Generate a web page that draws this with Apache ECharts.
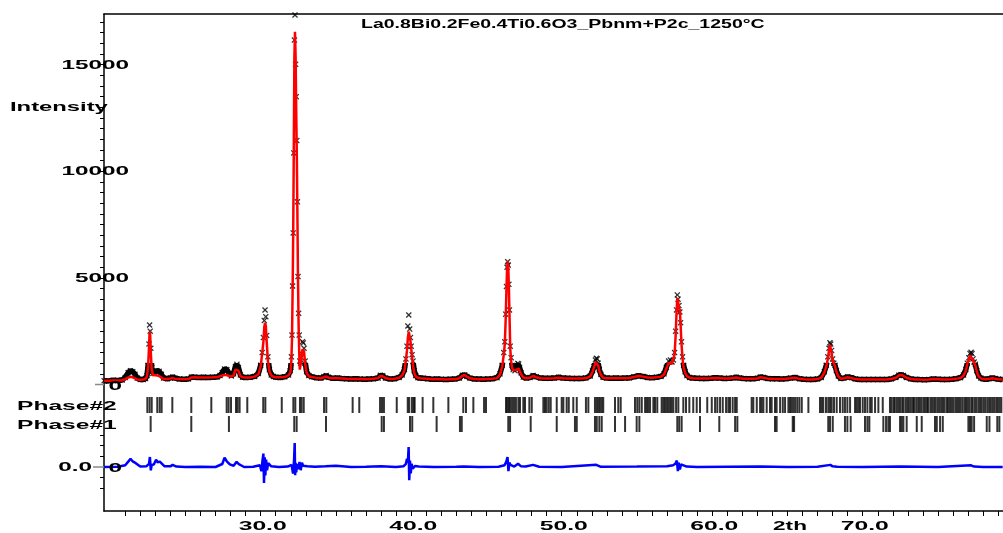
<!DOCTYPE html>
<html>
<head>
<meta charset="utf-8">
<script src="https://cdn.jsdelivr.net/npm/echarts@6/dist/echarts.min.js"></script>
<style>
  html, body { margin: 0; padding: 0; background: #fff; }
  #chart { width: 1003px; height: 533px; }
</style>
</head>
<body>
<div id="chart"></div>
<script>
// ---- Rietveld profile: La0.8Bi0.2Fe0.4Ti0.6O3, Pbnm + P2c, 1250 °C ----

const titleText = 'La0.8Bi0.2Fe0.4Ti0.6O3_Pbnm+P2c_1250\u00B0C';

// 2-theta grid of the observed / calculated profile (degrees)
const twoTheta = [
  19.60, 19.90, 20.20, 20.50, 20.80, 21.00, 21.20, 21.35, 21.50, 21.65, 21.80, 22.00, 22.20, 22.35,
  22.45, 22.52, 22.58, 22.62, 22.66, 22.70, 22.76, 22.84,
  22.95, 23.10, 23.25, 23.40, 23.55,
  23.80, 24.00, 24.15, 24.30, 24.60, 24.90, 25.20, 25.40, 25.60, 25.90, 26.20, 26.50, 26.80, 27.10, 27.30,
  27.45, 27.60, 27.75, 27.90, 28.05, 28.20, 28.32, 28.42, 28.52, 28.65, 28.80, 29.00,
  29.30, 29.60, 29.85, 30.00, 30.10, 30.18, 30.24, 30.29, 30.34, 30.40, 30.48, 30.58, 30.70, 30.85,
  31.00, 31.30, 31.60, 31.85, 31.96,
  32.00, 32.04, 32.08, 32.12, 32.16, 32.20, 32.24, 32.28, 32.32, 32.36, 32.40, 32.44, 32.48, 32.52, 32.56, 32.60,
  32.66, 32.72, 32.78, 32.83, 32.88, 32.95, 33.05, 33.20,
  33.40, 33.70, 34.00, 34.20, 34.35, 34.50, 34.80, 35.10, 35.40, 35.70, 36.00, 36.30, 36.60, 36.90, 37.20, 37.50, 37.80, 37.95, 38.10, 38.30, 38.60, 38.90, 39.20, 39.40,
  39.55, 39.65, 39.72, 39.78, 39.84, 39.90, 39.95, 40.00, 40.06, 40.12, 40.20, 40.30, 40.45, 40.60,
  40.80, 41.10, 41.40, 41.70, 42.00, 42.30, 42.60, 42.90, 43.20, 43.40, 43.55, 43.70, 43.90, 44.20, 44.50, 44.80, 45.10, 45.40, 45.70, 45.90, 46.05, 46.15,
  46.22, 46.28, 46.33, 46.37, 46.41, 46.45, 46.49, 46.53, 46.58, 46.64, 46.70, 46.78,
  46.90, 47.00, 47.08, 47.14, 47.20, 47.30, 47.45, 47.65,
  47.90, 48.10, 48.30, 48.60, 48.90, 49.20, 49.50, 49.80, 50.10, 50.40, 50.70, 51.00, 51.30, 51.60, 51.90, 52.05,
  52.15, 52.24, 52.30, 52.36, 52.42, 52.50, 52.60, 52.75,
  53.00, 53.30, 53.60, 53.90, 54.20, 54.50, 54.80, 55.10, 55.40, 55.70, 56.00, 56.30, 56.60, 56.80,
  56.95, 57.10, 57.22, 57.32, 57.42, 57.50, 57.57, 57.63, 57.68, 57.73, 57.79, 57.85, 57.90, 57.96, 58.03, 58.10, 58.20, 58.32, 58.50,
  58.70, 59.00, 59.30, 59.60, 59.90, 60.20, 60.50, 60.80, 61.10, 61.40, 61.60, 61.80, 62.10, 62.40, 62.70, 63.00, 63.20, 63.40, 63.70, 64.00, 64.30, 64.60, 64.90, 65.20, 65.50, 65.80, 66.10, 66.40, 66.70, 67.00, 67.25, 67.45,
  67.58, 67.68, 67.76, 67.82, 67.87, 67.93, 68.00, 68.08, 68.16, 68.25, 68.38, 68.55,
  68.75, 69.00, 69.25, 69.50, 69.80, 70.10, 70.40, 70.70, 71.00, 71.30, 71.60, 71.90, 72.20, 72.40, 72.55, 72.70, 72.90, 73.20, 73.50, 73.80, 74.10, 74.40, 74.70, 75.00, 75.30, 75.60, 75.90, 76.20, 76.50, 76.70, 76.85,
  76.95, 77.05, 77.13, 77.20, 77.26, 77.33, 77.40, 77.48, 77.58, 77.70, 77.85,
  78.00, 78.20, 78.40, 78.60, 78.80, 79.00, 79.30
];

// observed intensity (counts)
const yObs = [
  180, 170, 195, 185, 210, 330, 560, 650, 600, 480, 300, 240, 230, 280,
  420, 900, 1900, 2790, 2500, 1700, 800, 520,
  520, 650, 620, 480, 300,
  270, 310, 350, 300, 260, 250, 260, 350, 345, 330, 335, 330, 340, 350, 420,
  560, 727, 700, 520, 400, 500, 850, 947, 800, 450, 340, 330,
  340, 380, 520, 900, 1500, 2200, 3000, 3494, 3180, 2300, 1300, 700, 450, 380,
  340, 330, 360, 450, 650,
  800, 1300, 2320, 4620, 7110, 10860, 16157, 17330, 15017, 13500, 11440, 8570, 5060, 3340, 2320, 1100,
  1000, 1450, 2007, 1950, 1700, 1100, 600, 420,
  360, 320, 300, 360, 420, 340, 290, 300, 280, 270, 260, 265, 255, 250, 260, 270, 300, 430, 410, 300, 260, 270, 330, 450,
  700, 1200, 1800, 2744, 3260, 2600, 2200, 1800, 1400, 1100, 650, 420, 320, 300,
  290, 270, 250, 260, 245, 240, 250, 255, 300, 430, 450, 380, 300, 260, 255, 250, 260, 270, 320, 500, 900, 1500,
  2000, 3300, 4600, 5500, 5760, 5600, 4700, 3500, 1800, 1260, 900, 700,
  650, 800, 990, 960, 800, 550, 350, 300,
  330, 420, 360, 300, 290, 290, 300, 340, 300, 290, 280, 285, 280, 300, 400, 650,
  850, 1150, 1230, 1200, 1000, 700, 480, 340,
  300, 290, 300, 290, 300, 310, 360, 410, 380, 330, 320, 340, 380, 500,
  800, 1100, 1150, 1050, 1150, 1500, 2500, 3500, 4200, 4000, 3700, 3400, 2900, 2000, 1300, 900, 600, 420, 330,
  300, 290, 280, 285, 290, 320, 300, 280, 290, 310, 340, 300, 280, 270, 265, 290, 350, 330, 280, 270, 265, 260, 270, 300, 330, 270, 250, 240, 240, 260, 330, 600,
  900, 1300, 1700, 1960, 1900, 1600, 1200, 1000, 900, 650, 400, 280,
  300, 360, 320, 260, 240, 235, 230, 240, 235, 230, 240, 260, 330, 440, 460, 420, 330, 260, 240, 230, 225, 240, 260, 250, 235, 240, 250, 270, 320, 450, 700,
  1000, 1250, 1450, 1510, 1450, 1200, 1050, 950, 650, 400, 300,
  260, 250, 270, 310, 280, 250, 240
];

// calculated intensity (counts)
const yCalc = [
  175, 180, 185, 190, 200, 250, 330, 360, 340, 290, 240, 225, 230, 260,
  380, 850, 1750, 2476, 2300, 1500, 700, 450,
  400, 430, 400, 330, 260,
  260, 280, 300, 275, 255, 250, 255, 330, 335, 330, 330, 330, 335, 345, 390,
  420, 445, 440, 400, 370, 430, 700, 760, 650, 400, 340, 330,
  330, 370, 480, 850, 1460, 2000, 2700, 2900, 2750, 2000, 1100, 620, 420, 360,
  340, 335, 350, 430, 560,
  700, 1150, 2100, 4300, 7000, 11000, 15400, 16547, 15400, 12900, 10800, 8000, 4900, 2800, 1500, 700,
  750, 1250, 1650, 1697, 1550, 1000, 550, 380,
  350, 310, 295, 340, 380, 320, 290, 290, 280, 268, 260, 260, 255, 250, 255, 265, 300, 400, 390, 300, 260, 270, 320, 430,
  650, 1150, 1600, 2200, 2476, 2400, 2050, 1700, 1300, 900, 550, 380, 310, 290,
  280, 265, 250, 250, 245, 240, 245, 250, 290, 410, 445, 370, 290, 260, 250, 250, 255, 265, 300, 460, 850, 1400,
  1900, 3100, 4500, 5400, 5760, 5500, 4600, 3300, 1700, 1100, 800, 650,
  600, 700, 760, 750, 650, 480, 330, 290,
  320, 400, 340, 295, 285, 285, 295, 320, 295, 285, 280, 280, 280, 290, 380, 600,
  800, 1040, 1070, 1050, 900, 650, 450, 320,
  295, 290, 295, 290, 295, 305, 350, 400, 370, 325, 320, 335, 370, 470,
  750, 1000, 1070, 980, 1050, 1400, 2300, 3400, 4043, 3900, 3600, 3494, 2800, 1900, 1200, 800, 550, 390, 320,
  295, 285, 280, 280, 290, 310, 295, 280, 285, 305, 330, 295, 275, 265, 265, 285, 340, 320, 275, 265, 260, 258, 265, 290, 320, 265, 248, 238, 238, 255, 320, 560,
  850, 1200, 1600, 1852, 1800, 1500, 1100, 994, 850, 600, 380, 270,
  290, 338, 300, 255, 240, 235, 232, 235, 232, 230, 238, 255, 320, 420, 445, 410, 320, 255, 238, 230, 228, 238, 255, 245, 235, 238, 248, 265, 310, 420, 650,
  950, 1200, 1350, 1383, 1350, 1150, 1000, 900, 600, 380, 290,
  255, 250, 265, 290, 270, 245, 235
];

// difference curve (obs - calc)
const diffTheta = [
  19.60, 20.50, 21.00, 21.20, 21.35, 21.50, 21.70, 22.00, 22.40, 22.58,
  22.64, 22.70, 22.76, 22.90, 23.05, 23.15, 23.30, 23.60, 24.00, 24.15,
  24.40, 25.00, 26.00, 27.00, 27.45, 27.60, 27.75, 27.95, 28.20, 28.40,
  28.55, 28.90, 29.50, 29.95, 30.05, 30.12, 30.18, 30.22, 30.27, 30.31,
  30.36, 30.42, 30.50, 30.70, 31.20, 31.80, 32.05, 32.15, 32.22, 32.26,
  32.29, 32.32, 32.36, 32.42, 32.50, 32.58, 32.66, 32.74, 32.82, 32.90,
  33.10, 33.60, 34.30, 35.00, 36.00, 37.00, 38.00, 39.00, 39.50, 39.65,
  39.72, 39.78, 39.83, 39.87, 39.92, 39.97, 40.03, 40.10, 40.25, 40.50,
  41.50, 43.00, 43.50, 44.50, 45.80, 46.20, 46.32, 46.40, 46.46, 46.52,
  46.60, 46.70, 46.85, 47.10, 47.30, 47.60, 48.10, 48.50, 50.00, 52.30,
  52.60, 55.00, 57.00, 57.40, 57.55, 57.65, 57.72, 57.78, 57.85, 57.93,
  58.05, 58.30, 59.00, 61.00, 63.20, 65.00, 67.00, 67.85, 68.00, 68.30,
  70.00, 72.50, 75.00, 77.20, 77.40, 78.00, 79.30
];
const yDiff = [
  0, 10, 80, 250, 390, 260, 180, 20, 30, 150,
  470, -156, 100, 120, 344, 220, 250, 40, 30, 100,
  20, 0, 10, 0, 140, 440, 260, 120, 60, 240,
  130, 0, 10, 80, -200, 300, 630, -750, 450, -400,
  350, -150, 180, 30, 0, 20, 100, -310, 350, 1125,
  -390, 200, -250, 150, -100, 240, -150, 200, 60, 120,
  40, 10, 30, 60, 0, 10, 30, 0, 40, 150,
  390, 200, 940, -625, 300, -300, 150, -80, 50, 20,
  0, 10, 20, 0, 10, 80, 250, 470, -190, 200,
  100, 60, 20, 150, 30, 20, 100, 10, 0, 100,
  10, 20, 40, 80, 150, 300, -190, 200, -120, 120,
  40, 20, 0, 10, 20, 0, 10, 100, 30, 10,
  0, 20, 0, 80, 20, 0, 0
];

// Bragg reflection positions (2-theta)
const phase2Refl = [
  22.47, 22.62, 22.76, 23.13, 23.29, 23.42, 24.13, 25.39, 26.72, 27.74, 27.87, 28.03, 28.36, 28.47, 28.60, 29.11,
  30.17, 30.31, 31.40, 32.17, 32.30, 32.61, 32.72, 32.86, 34.21, 34.36, 36.11, 36.55, 37.93, 38.06, 38.19, 39.04,
  39.77, 39.87, 40.05, 40.17, 40.23, 40.76, 41.47, 42.47, 43.46, 43.64, 44.13, 44.84, 44.97,
  46.30, 46.39, 46.48, 46.57, 46.70, 46.83, 46.96, 47.12, 47.23, 47.45, 47.56, 47.85, 48.01,
  48.78, 48.89, 49.00, 49.14, 49.27, 49.67, 50.00, 50.11, 50.33, 50.47, 50.77, 51.00, 51.61, 51.77,
  52.21, 52.33, 52.43, 52.54, 52.66, 52.76, 53.54, 53.76, 53.92,
  54.87, 55.02, 55.16, 55.32, 55.54, 55.65, 55.75, 55.87, 56.09, 56.20, 56.35, 56.64, 56.75, 56.86, 56.98,
  57.08, 57.20, 57.31, 57.42, 57.60, 57.75, 58.08, 58.26, 58.48, 58.74, 58.97, 59.19, 59.67, 59.97,
  60.19, 60.34, 60.52, 60.70, 60.92, 61.07, 61.18, 61.36, 61.52, 61.63,
  62.62, 62.73, 62.96, 63.18, 63.29, 63.40, 63.62, 63.84, 63.95, 64.17, 64.28, 64.51, 64.69, 64.84,
  65.06, 65.17, 65.28, 65.39, 65.51, 65.65, 65.79, 65.95, 66.39,
  67.16, 67.28, 67.38, 67.56, 67.71, 67.83, 67.94, 68.09, 68.27, 68.49, 68.67, 68.82, 68.98, 69.16,
  69.49, 69.60, 69.71, 69.82, 70.00, 70.15, 70.31, 70.49, 70.60, 70.82, 71.04, 71.33,
  71.81, 71.92, 72.05, 72.13, 72.26, 72.37, 72.48, 72.62, 72.71, 72.85, 72.96, 73.07, 73.20, 73.33,
  73.41, 73.55, 73.68, 73.79, 73.90, 74.03, 74.14, 74.27, 74.36, 74.50, 74.61, 74.74, 74.85, 74.98,
  75.09, 75.21, 75.33, 75.44, 75.58, 75.67, 75.80, 75.92, 76.03, 76.16, 76.27, 76.39, 76.50, 76.62,
  76.75, 76.86, 76.98, 77.09, 77.22, 77.31, 77.45, 77.56, 77.69, 77.80, 77.91, 78.04, 78.15, 78.28,
  78.40, 78.51, 78.63, 78.74, 78.87, 78.98, 79.10, 79.21
];
const phase1Refl = [
  22.69, 25.39, 27.89, 32.23, 32.39, 34.34, 38.04, 38.19, 39.92, 40.07, 41.69, 43.24, 43.36,
  46.45, 46.57, 47.94, 49.67, 50.88, 51.00, 52.21, 52.33, 52.50, 52.66, 53.54, 54.21, 54.98, 55.16,
  57.68, 57.81, 57.97, 59.19, 60.47, 61.52, 61.67, 64.17, 64.28, 65.35, 65.44,
  67.71, 67.83, 68.01, 68.82, 68.98, 69.20, 70.15, 70.31, 70.44, 71.37, 71.55, 71.70, 71.81,
  72.48, 72.59, 72.70, 72.92, 73.59, 73.92, 74.80, 74.92, 75.14, 75.32,
  77.02, 77.13, 77.24, 77.40, 78.24, 78.42, 78.94, 79.08
];

// axis labels
const yLabelValues = [5000, 10000, 15000];
const xLabelValues = [30, 40, 50, 60, 70];
const xAxisName = '2th';
const yAxisName = 'Intensity';
const phaseNames = ['Phase#2', 'Phase#1'];

if (twoTheta.length !== yObs.length || twoTheta.length !== yCalc.length) {
  throw new Error('profile arrays differ: ' + twoTheta.length + ' / ' + yObs.length + ' / ' + yCalc.length);
}
if (diffTheta.length !== yDiff.length) {
  throw new Error('difference arrays differ: ' + diffTheta.length + ' / ' + yDiff.length);
}

// ---- layout ----
const W = 1003, H = 533;
const X_MIN = 19.59, X_MAX = 79.32;
const Y_MIN = -5933, Y_MAX = 17378;        // intensity axis
const D_MIN = -2064, D_MAX = 21248;        // difference axis (its zero sits below the pattern)
const ROW_PHASE2 = -961, ROW_PHASE1 = -1853; // reflection rows on the intensity axis
const BAND_LIMIT = 1000;                     // dense obs band only drawn near the background

const xTicks = [];
for (let t = 21; t <= 79; t++) xTicks.push(t);
const yTicks = [];
for (let v = 0; v <= 17000; v += 500) yTicks.push(v);
const diffTicks = [-1000, -500, 500, 1000, 1500];

const zip = (xs, ys) => xs.map((x, i) => [x, ys[i]]);
const rowOf = (xs, level) => xs.map(x => [x, level]);

const crossSymbol = 'path://M0,1.5L1.5,0L5,3.5L8.5,0L10,1.5L6.5,5L10,8.5L8.5,10L5,6.5L1.5,10L0,8.5L3.5,5Z';
const obsData = zip(twoTheta, yObs);

const chart = echarts.init(document.getElementById('chart'), null, { renderer: 'canvas', width: W, height: H });

chart.setOption({
  animation: false,
  backgroundColor: '#ffffff',
  grid: { left: 104, right: 0, top: 14, bottom: 22, containLabel: false },
  xAxis: [
    {
      type: 'value', min: X_MIN, max: X_MAX, position: 'bottom',
      axisLine: { show: true, onZero: false, lineStyle: { color: '#000', width: 1.5 } },
      axisTick: { show: true, inside: false, length: 5, customValues: xTicks, lineStyle: { color: '#000', width: 1 } },
      axisLabel: { show: false },
      splitLine: { show: false }
    },
    {
      type: 'value', min: X_MIN, max: X_MAX, position: 'top',
      axisLine: { show: true, onZero: false, lineStyle: { color: '#000', width: 1.5 } },
      axisTick: { show: false }, axisLabel: { show: false }, splitLine: { show: false }
    }
  ],
  yAxis: [
    {
      type: 'value', min: Y_MIN, max: Y_MAX, position: 'left',
      axisLine: { show: true, onZero: false, lineStyle: { color: '#000', width: 1.5 } },
      axisTick: { show: true, inside: false, length: 4, customValues: yTicks, lineStyle: { color: '#000', width: 1 } },
      axisLabel: { show: false },
      splitLine: { show: false }
    },
    {
      type: 'value', min: D_MIN, max: D_MAX, position: 'left', offset: 0,
      axisLine: { show: false },
      axisTick: { show: true, inside: false, length: 4, customValues: diffTicks, lineStyle: { color: '#000', width: 1 } },
      axisLabel: { show: false },
      splitLine: { show: false }
    }
  ],
  series: [
    {
      // thick black band of observed points along the background
      name: 'obsBand', type: 'line', xAxisIndex: 0, yAxisIndex: 0,
      data: obsData, showSymbol: false,
      lineStyle: { color: '#000', width: 5.5 },
      z: 2, silent: true
    },
    {
      name: 'obs', type: 'scatter', xAxisIndex: 0, yAxisIndex: 0,
      data: obsData,
      symbol: crossSymbol, symbolSize: 6,
      itemStyle: { color: '#000' },
      z: 2, silent: true
    },
    {
      name: 'calc', type: 'line', xAxisIndex: 0, yAxisIndex: 0,
      data: zip(twoTheta, yCalc),
      showSymbol: false,
      lineStyle: { color: '#ff0000', width: 2.5 },
      z: 3, silent: true
    },
    {
      name: 'diff', type: 'line', xAxisIndex: 0, yAxisIndex: 1,
      data: zip(diffTheta, yDiff),
      showSymbol: false,
      lineStyle: { color: '#0000ff', width: 2.5 },
      z: 3, silent: true
    },
    {
      name: phaseNames[0], type: 'scatter', xAxisIndex: 0, yAxisIndex: 0,
      data: rowOf(phase2Refl, ROW_PHASE2),
      symbol: 'rect', symbolSize: [2, 16],
      itemStyle: { color: '#000' }, z: 2, silent: true
    },
    {
      name: phaseNames[1], type: 'scatter', xAxisIndex: 0, yAxisIndex: 0,
      data: rowOf(phase1Refl, ROW_PHASE1),
      symbol: 'rect', symbolSize: [2, 16],
      itemStyle: { color: '#000' }, z: 2, silent: true
    }
  ]
});

const py = v => chart.convertToPixel({ yAxisIndex: 0 }, v);
const pd = v => chart.convertToPixel({ yAxisIndex: 1 }, v);
const px = v => chart.convertToPixel({ xAxisIndex: 0 }, v);

// the band fades out above BAND_LIMIT, leaving only the cross markers on the peaks
const cut = py(BAND_LIMIT) / H;
chart.setOption({
  series: [{
    name: 'obsBand',
    lineStyle: {
      color: {
        type: 'linear', x: 0, y: 0, x2: 0, y2: H, global: true,
        colorStops: [
          { offset: 0, color: 'rgba(0,0,0,0)' },
          { offset: cut, color: 'rgba(0,0,0,0)' },
          { offset: cut, color: '#000' },
          { offset: 1, color: '#000' }
        ]
      }
    }
  }]
});

// ---- wide bold lettering drawn as graphic text ----
const FONT = '"Liberation Sans", Arial, sans-serif';
function txt(text, x, y, align, sx, size) {
  return {
    type: 'text', x: x, y: y, scaleX: sx, z: 20, silent: true,
    style: {
      text: text, x: 0, y: 0,
      font: 'bold ' + (size || 13) + 'px ' + FONT,
      fill: '#000',
      align: align, textAlign: align,
      verticalAlign: 'middle', textVerticalAlign: 'middle'
    }
  };
}
function seg(x1, y1, x2, y2, color) {
  return { type: 'line', z: 20, silent: true, shape: { x1, y1, x2, y2 }, style: { stroke: color, lineWidth: 1.5 } };
}

const S = 1.87;
const els = [];
els.push(txt(titleText, 361, 24, 'left', 1.5, 13));
els.push(txt(yAxisName, 10, 107.5, 'left', 1.83, 13));
yLabelValues.forEach(v => els.push(txt(String(v), 129, py(v) + 0.5, 'right', S, 13)));
els.push(txt('0', 122, py(0) + 2, 'right', S, 13));
els.push(seg(95, py(0), 104, py(0), '#8a8a8a'));
els.push(txt(phaseNames[0], 17, 406.5, 'left', 1.89, 13));
els.push(txt(phaseNames[1], 17, 425.5, 'left', 1.89, 13));
els.push(txt('0.0', 92, pd(0) + 0.5, 'right', S, 13));
els.push(seg(93, pd(0), 104, pd(0), '#8a8a8a'));
els.push(txt('0', 122, pd(0) + 1, 'right', S, 13));
xLabelValues.forEach(v => els.push(txt(v.toFixed(1), px(v) + 2, 526, 'center', 1.9, 13)));
els.push(txt(xAxisName, 790, 526, 'center', 1.74, 13));

chart.setOption({ graphic: { elements: els } });
</script>
</body>
</html>
